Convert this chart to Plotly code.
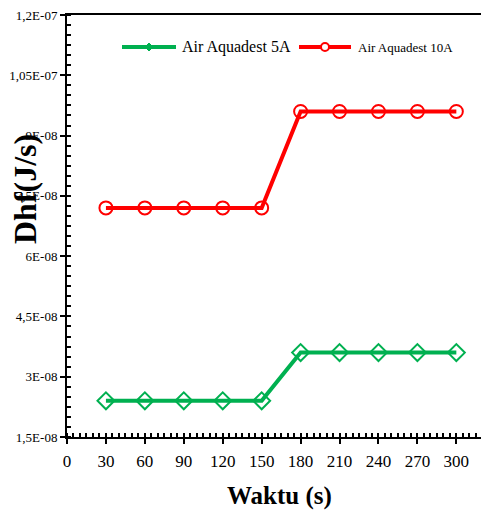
import plotly.graph_objects as go

waktu = [30, 60, 90, 120, 150, 180, 210, 240, 270, 300]
dhf_5a = [2.4e-8, 2.4e-8, 2.4e-8, 2.4e-8, 2.4e-8, 3.6e-8, 3.6e-8, 3.6e-8, 3.6e-8, 3.6e-8]
dhf_10a = [7.2e-8, 7.2e-8, 7.2e-8, 7.2e-8, 7.2e-8, 9.6e-8, 9.6e-8, 9.6e-8, 9.6e-8, 9.6e-8]

x_ticks = [0, 30, 60, 90, 120, 150, 180, 210, 240, 270, 300]
y_ticks = [1.5e-8, 3e-8, 4.5e-8, 6e-8, 7.5e-8, 9e-8, 1.05e-7, 1.2e-7]
y_ticktext = ["1,5E-08", "3E-08", "4,5E-08", "6E-08", "7,5E-08", "9E-08", "1,05E-07", "1,2E-07"]
series_names = ["Air Aquadest 5A", "Air Aquadest 10A"]

GREEN = "#00B050"
RED = "#FF0000"
FONT = "Liberation Serif, Times New Roman, serif"
X_RANGE = [0, 319]
Y_RANGE = [1.5e-8, 1.2e-7]

W, H = 481, 511
ML, MR, MT, MB = 67, 0, 15, 74
PW, PH = W - ML - MR, H - MT - MB


def px(xp):
    return (xp - ML) / PW


def py(yp):
    return (H - MB - yp) / PH


fig = go.Figure()

fig.add_trace(go.Scatter(
    x=waktu, y=dhf_5a, mode="lines+markers", name=series_names[0], showlegend=False,
    line=dict(color=GREEN, width=4),
    marker=dict(symbol="diamond-open", size=13, color=GREEN, line=dict(width=2, color=GREEN)),
))
fig.add_trace(go.Scatter(
    x=waktu, y=dhf_10a, mode="lines+markers", name=series_names[1], showlegend=False,
    line=dict(color=RED, width=4),
    marker=dict(symbol="circle-open", size=13, color=RED, line=dict(width=2, color=RED)),
))

# legend (drawn manually in paper space)
LEG_Y = 47
shapes = [
    dict(type="line", xref="paper", yref="paper", x0=px(122), x1=px(176), y0=py(LEG_Y), y1=py(LEG_Y),
         line=dict(color=GREEN, width=4)),
    dict(type="path", xref="paper", yref="paper", xsizemode="pixel", ysizemode="pixel",
         xanchor=px(149), yanchor=py(LEG_Y), path="M -4 0 L 0 4 L 4 0 L 0 -4 Z",
         fillcolor=GREEN, line=dict(color=GREEN, width=1)),
    dict(type="line", xref="paper", yref="paper", x0=px(299), x1=px(351), y0=py(LEG_Y), y1=py(LEG_Y),
         line=dict(color=RED, width=4)),
    dict(type="circle", xref="paper", yref="paper", xsizemode="pixel", ysizemode="pixel",
         xanchor=px(325), yanchor=py(LEG_Y), x0=-4, x1=4, y0=-4, y1=4,
         fillcolor="white", line=dict(color=RED, width=2)),
]

annotations = [
    dict(text=series_names[0], xref="paper", yref="paper", x=px(180), y=py(LEG_Y),
         xanchor="left", yanchor="middle", showarrow=False,
         font=dict(family=FONT, size=16, color="black")),
    dict(text=series_names[1], xref="paper", yref="paper", x=px(356), y=py(LEG_Y),
         xanchor="left", yanchor="middle", showarrow=False,
         font=dict(family=FONT, size=13, color="black")),
    dict(text="<b>Waktu (s)</b>", xref="paper", yref="paper", x=px(279), y=py(496),
         xanchor="center", yanchor="middle", showarrow=False,
         font=dict(family=FONT, size=25, color="black")),
    dict(text="<b>Dhf(J/s)</b>", xref="paper", yref="paper", x=px(25), y=py(189),
         xanchor="center", yanchor="middle", showarrow=False, textangle=-90,
         font=dict(family=FONT, size=32, color="black")),
]

fig.update_layout(
    width=W, height=H,
    margin=dict(l=ML, r=MR, t=MT, b=MB),
    paper_bgcolor="white", plot_bgcolor="white",
    font=dict(family=FONT, color="black"),
    showlegend=False,
    xaxis=dict(
        range=X_RANGE, tickvals=x_ticks, ticks="outside", ticklen=5, tickwidth=2,
        tickcolor="black", showline=True, linewidth=2, linecolor="black", mirror=True,
        showgrid=False, zeroline=False, tickfont=dict(family=FONT, size=17, color="black"),
        ticklabelstandoff=3,
        minor=dict(dtick=5, tick0=0, ticks="inside", ticklen=4, tickwidth=1.5, tickcolor="black"),
    ),
    yaxis=dict(
        range=Y_RANGE, tickvals=y_ticks, ticktext=y_ticktext, ticks="outside", ticklen=5,
        tickwidth=2, tickcolor="black", showline=True, linewidth=2, linecolor="black",
        mirror=False, showgrid=False, zeroline=False,
        tickfont=dict(family=FONT, size=13, color="black"),
        minor=dict(dtick=2.5e-9, tick0=1.5e-8, ticks="inside", ticklen=4, tickwidth=1.5, tickcolor="black"),
    ),
    xaxis2=dict(
        overlaying="x", anchor="y", range=X_RANGE, tickvals=x_ticks, ticks="inside", ticklen=5,
        tickwidth=2, tickcolor="black", showticklabels=False, showline=False, showgrid=False,
        zeroline=False, side="bottom",
    ),
    yaxis2=dict(
        overlaying="y", anchor="x", range=Y_RANGE, tickvals=y_ticks, ticks="inside", ticklen=5,
        tickwidth=2, tickcolor="black", showticklabels=False, showline=False, showgrid=False,
        zeroline=False, side="left",
    ),
    shapes=shapes,
    annotations=annotations,
)

fig.write_html("out.html")
